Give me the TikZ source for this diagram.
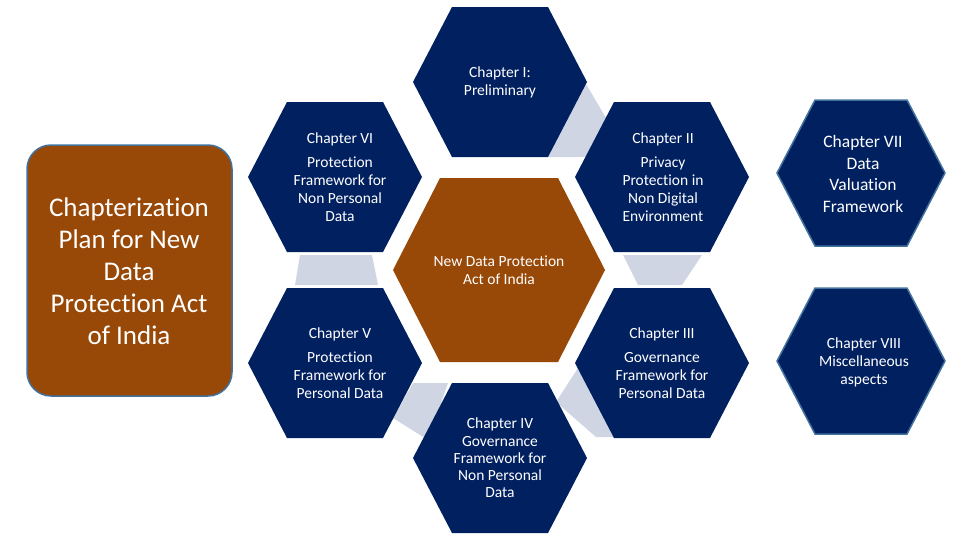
\documentclass[tikz,border=0pt]{standalone}
\usepackage{fontspec}
\setmainfont{Carlito}[Ligatures=NoCommon]
\definecolor{navy}{HTML}{002060}
\definecolor{rust}{HTML}{984807}
\definecolor{conn}{HTML}{CFD5E3}
\definecolor{edge}{HTML}{41719C}
\newcommand{\hexa}[6]{% x y w h a style
  \fill[#6] (#1-#3,#2) -- (#1-#5,#2-#4) -- (#1+#5,#2-#4) -- (#1+#3,#2) -- (#1+#5,#2+#4) -- (#1-#5,#2+#4) -- cycle;}
\begin{document}
\begin{tikzpicture}[x=1pt,y=-1pt,
  txt/.style={text=white,font=\fontsize{15.5}{18}\selectfont,align=center}]
\useasboundingbox (0,0) rectangle (976,544);
% connectors
\fill[conn] (586,84) -- (622,145) -- (600,157) -- (548,157) -- cycle;
\fill[conn] (623,255) -- (702,255) -- (682,285) -- (638,285) -- cycle;
\fill[conn] (578,368) -- (616,437) -- (596,437) -- (556,402) -- cycle;
\fill[conn] (413,383) -- (448,383) -- (428,440) -- (393,418) -- cycle;
\fill[conn] (300,255) -- (372,255) -- (378,285) -- (295,285) -- cycle;
% hexagons
\hexa{500}{82}{87}{75}{48}{navy}
\hexa{662}{177}{87}{75}{48}{navy}
\hexa{335}{177}{87}{75}{48}{navy}
\hexa{662}{363}{87}{75}{48}{navy}
\hexa{335}{363}{87}{75}{48}{navy}
\hexa{500}{458}{87}{75}{48}{navy}
\hexa{499}{270}{106}{92}{59}{rust}
\hexa{861}{173}{84}{73}{46}{navy,draw=edge,line width=1.5pt}
\hexa{861}{361}{84}{73}{46}{navy,draw=edge,line width=1.5pt}
\draw[edge,line width=1.5pt,fill=rust,rounded corners=24pt] (27,145) rectangle (232,396);
% texts
\node[txt] (c1) at (500,82) {Chapter I:\\Preliminary};
\node[txt] (c2) at (663,177) {Chapter II\\[6pt]Privacy\\Protection in\\Non Digital\\Environment};
\node[txt] (c6) at (340,177) {Chapter VI\\[6pt]Protection\\Framework for\\Non Personal\\Data};
\node[txt] (c3) at (662,363) {Chapter III\\[6pt]Governance\\Framework for\\Personal Data};
\node[txt] (c5) at (340,363) {Chapter V\\[6pt]Protection\\Framework for\\Personal Data};
\node[txt,font=\fontsize{15.5}{17.3}\selectfont] (c4) at (500,458) {Chapter IV\\Governance\\Framework for\\Non Personal\\Data};
\node[txt] (c0) at (499,270) {New Data Protection\\Act of India};
\node[txt,font=\fontsize{17.5}{21.5}\selectfont] (c7) at (863,174) {Chapter VII\\Data\\Valuation\\Framework};
\node[txt] (c8) at (864,362) {Chapter VIII\\Miscellaneous\\aspects};
\node[txt,font=\fontsize{27}{32}\selectfont] (t) at (129,271) {Chapterization\\Plan for New\\Data\\Protection Act\\of India};
\end{tikzpicture}
\end{document}
